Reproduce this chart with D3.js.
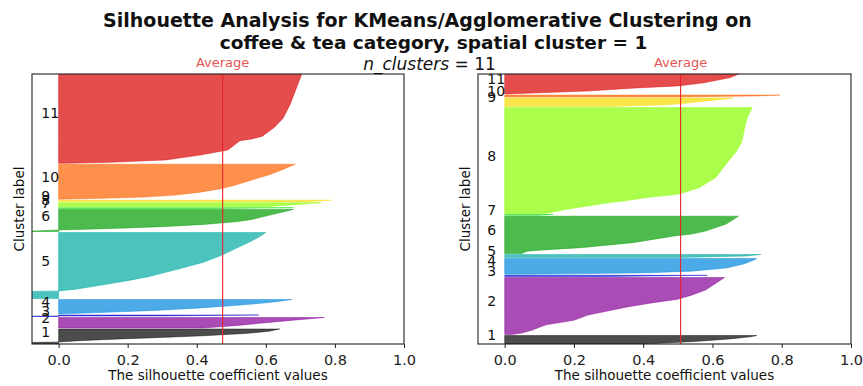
<!DOCTYPE html>
<html>
<head>
<meta charset="utf-8">
<script src="https://cdn.jsdelivr.net/npm/d3@7"></script>
<style>
  body { margin: 0; background: #fff; }
  svg { display: block; }
  text { font-family: "DejaVu Sans", "Noto Sans", sans-serif; fill: #111; }
</style>
</head>
<body>
<svg id="chart" width="863" height="386"></svg>
<script>
// ---- data -------------------------------------------------------------
const clusterLabels = ["1", "2", "3", "4", "5", "6", "7", "8", "9", "10", "11"];
// nipy_spectral(i / 11)
const clusterColors = ["#000000", "#850096", "#0000ca", "#0086dd", "#00aaa1",
                       "#009c00", "#00da00", "#88ff00", "#f7db00", "#ff6100", "#da0000"];

// KMeans: samples per cluster and sorted silhouette profile [rank fraction, value]
const kmeansSizes = [150, 105, 15, 145, 660, 220, 8, 40, 15, 350, 900];
const kmeansProfiles = [
  [[0, -0.2], [0.1, -0.1], [0.13, 0.0], [0.22, 0.06], [0.32, 0.16], [0.42, 0.28], [0.55, 0.42], [0.7, 0.54], [0.85, 0.61], [1, 0.64]],
  [[0, 0.42], [0.25, 0.52], [0.5, 0.6], [0.75, 0.68], [1, 0.77]],
  [[0, -0.2], [0.3, -0.1], [0.4, 0.3], [1, 0.58]],
  [[0, 0.0], [0.1, 0.12], [0.25, 0.28], [0.4, 0.4], [0.55, 0.49], [0.7, 0.57], [0.85, 0.63], [1, 0.675]],
  [[0, -0.25], [0.1, -0.15], [0.115, 0.0], [0.14, 0.05], [0.2, 0.12], [0.27, 0.2], [0.33, 0.26], [0.45, 0.35],
   [0.55, 0.42], [0.65, 0.47], [0.75, 0.51], [0.85, 0.55], [0.93, 0.58], [1, 0.6]],
  [[0, -0.12], [0.04, -0.04], [0.07, 0.0], [0.1, 0.08], [0.15, 0.18], [0.22, 0.3], [0.32, 0.42], [0.45, 0.52],
   [0.55, 0.56], [0.7, 0.6], [0.85, 0.64], [1, 0.68]],
  [[0, 0.45], [1, 0.68]],
  [[0, 0.6], [1, 0.76]],
  [[0, 0.72], [1, 0.79]],
  [[0, 0.0], [0.02, 0.1], [0.06, 0.25], [0.12, 0.34], [0.2, 0.41], [0.3, 0.47], [0.4, 0.51], [0.55, 0.56],
   [0.7, 0.61], [0.85, 0.65], [1, 0.685]],
  [[0, 0.02], [0.01, 0.15], [0.036, 0.31], [0.09, 0.41], [0.147, 0.49], [0.25, 0.525], [0.27, 0.56], [0.3, 0.59],
   [0.4, 0.625], [0.5, 0.65], [0.65, 0.67], [0.8, 0.685], [1, 0.705]]
];
const kmeansAverage = 0.475;

// Agglomerative
const aggloSizes = [85, 570, 12, 158, 30, 373, 8, 1058, 87, 18, 205];
const aggloProfiles = [
  [[0, 0.4], [0.3, 0.55], [0.6, 0.65], [0.85, 0.71], [1, 0.728]],
  [[0, 0.02], [0.026, 0.05], [0.08, 0.08], [0.17, 0.12], [0.25, 0.2], [0.34, 0.24], [0.39, 0.28], [0.48, 0.35],
   [0.55, 0.42], [0.62, 0.5], [0.69, 0.54], [0.78, 0.58], [0.9, 0.61], [1, 0.635]],
  [[0, 0.3], [1, 0.585]],
  [[0, 0.05], [0.03, 0.2], [0.1, 0.42], [0.2, 0.54], [0.4, 0.64], [0.65, 0.69], [0.9, 0.72], [1, 0.728]],
  [[0, 0.5], [0.5, 0.7], [1, 0.74]],
  [[0, 0.05], [0.06, 0.065], [0.09, 0.1], [0.155, 0.22], [0.29, 0.37], [0.47, 0.49], [0.52, 0.54], [0.6, 0.58],
   [0.79, 0.64], [1, 0.675]],
  [[0, 0.1], [1, 0.14]],
  [[0, 0.12], [0.04, 0.18], [0.07, 0.24], [0.1, 0.3], [0.12, 0.35], [0.15, 0.41], [0.18, 0.5], [0.24, 0.56],
   [0.34, 0.61], [0.47, 0.64], [0.59, 0.67], [0.68, 0.685], [0.81, 0.693], [0.9, 0.7], [1, 0.715]],
  [[0, 0.3], [0.2, 0.47], [0.5, 0.55], [0.8, 0.62], [1, 0.66]],
  [[0, 0.5], [0.5, 0.72], [1, 0.795]],
  [[0, 0.0], [0.05, 0.08], [0.15, 0.24], [0.3, 0.38], [0.4, 0.5], [0.55, 0.575], [0.8, 0.65], [0.96, 0.673], [1, 0.68]]
];
const aggloAverage = 0.508;

const xTicks = [0, 0.2, 0.4, 0.6, 0.8, 1.0];
const xDomain = [-0.077, 1];
const yDomain = [10, 2710];
const clusterGap = 10;

const titleLines = ["Silhouette Analysis for KMeans/Agglomerative Clustering on",
                    "coffee & tea category, spatial cluster = 1"];

// ---- drawing ----------------------------------------------------------
const svg = d3.select("#chart");
const W = 863;
const plotTop = 74, plotBottom = 344;

function drawPanel(id, left, right, sizes, profiles, avg) {
  const x = d3.scaleLinear().domain(xDomain).range([left, right]);
  const y = d3.scaleLinear().domain(yDomain).range([plotBottom, plotTop]);
  const g = svg.append("g");

  g.append("clipPath").attr("id", id)
    .append("rect").attr("x", left).attr("y", plotTop)
    .attr("width", right - left).attr("height", plotBottom - plotTop);

  const fills = g.append("g").attr("clip-path", `url(#${id})`);
  const labels = g.append("g");

  let yLower = yDomain[0];
  sizes.forEach((size, i) => {
    const base = yLower;
    const area = d3.area()
      .y(d => y(base + d[0] * size))
      .x0(x(0))
      .x1(d => x(d[1]));
    fills.append("path")
      .attr("d", area(profiles[i]))
      .attr("fill", clusterColors[i])
      .attr("fill-opacity", 0.7)
      .attr("stroke", clusterColors[i])
      .attr("stroke-opacity", 0.7)
      .attr("stroke-width", 0.6);
    labels.append("text")
      .attr("x", x(-0.05))
      .attr("y", y(base + 0.5 * size))
      .attr("font-size", 14)
      .text(clusterLabels[i]);
    yLower = base + size + clusterGap;
  });

  // average silhouette score
  fills.append("line")
    .attr("x1", x(avg)).attr("x2", x(avg))
    .attr("y1", plotTop).attr("y2", plotBottom)
    .attr("stroke", "#e8232b").attr("stroke-width", 1.1);
  g.append("text")
    .attr("x", x(avg)).attr("y", 67)
    .attr("text-anchor", "middle")
    .attr("font-size", 13)
    .style("fill", "#e35555")
    .text("Average");

  // x axis
  const axis = g.append("g")
    .attr("transform", `translate(0,${plotBottom})`)
    .call(d3.axisBottom(x).tickValues(xTicks).tickFormat(d3.format(".1f")).tickSizeOuter(0).tickSize(4));
  axis.select(".domain").remove();
  axis.selectAll(".tick line").attr("stroke", "#222");
  axis.selectAll(".tick text").attr("font-size", 14.5).attr("dy", "0.95em").style("fill", "#222");

  g.append("text")
    .attr("x", (left + right) / 2).attr("y", 380)
    .attr("text-anchor", "middle").attr("font-size", 13.5)
    .text("The silhouette coefficient values");

  g.append("text")
    .attr("transform", `translate(${left - 8},${(plotTop + plotBottom) / 2}) rotate(-90)`)
    .attr("text-anchor", "middle").attr("font-size", 13.5)
    .text("Cluster label");

  // frame
  g.append("rect")
    .attr("x", left).attr("y", plotTop)
    .attr("width", right - left).attr("height", plotBottom - plotTop)
    .attr("fill", "none").attr("stroke", "#222").attr("stroke-width", 1.1);
}

drawPanel("clipKM", 32, 404, kmeansSizes, kmeansProfiles, kmeansAverage);
drawPanel("clipAG", 478, 851, aggloSizes, aggloProfiles, aggloAverage);

// titles
svg.append("text")
  .attr("x", W / 2 - 4).attr("y", 27)
  .attr("text-anchor", "middle").attr("font-size", 19).attr("font-weight", "bold")
  .text(titleLines[0]);
svg.append("text")
  .attr("x", W / 2 + 2).attr("y", 49)
  .attr("text-anchor", "middle").attr("font-size", 18.5).attr("font-weight", "bold")
  .text(titleLines[1]);

const sub = svg.append("text")
  .attr("x", W / 2 - 2).attr("y", 70)
  .attr("text-anchor", "middle").attr("font-size", 17);
sub.append("tspan").attr("font-style", "italic").text("n_clusters");
sub.append("tspan").text(" = 11");
</script>
</body>
</html>
